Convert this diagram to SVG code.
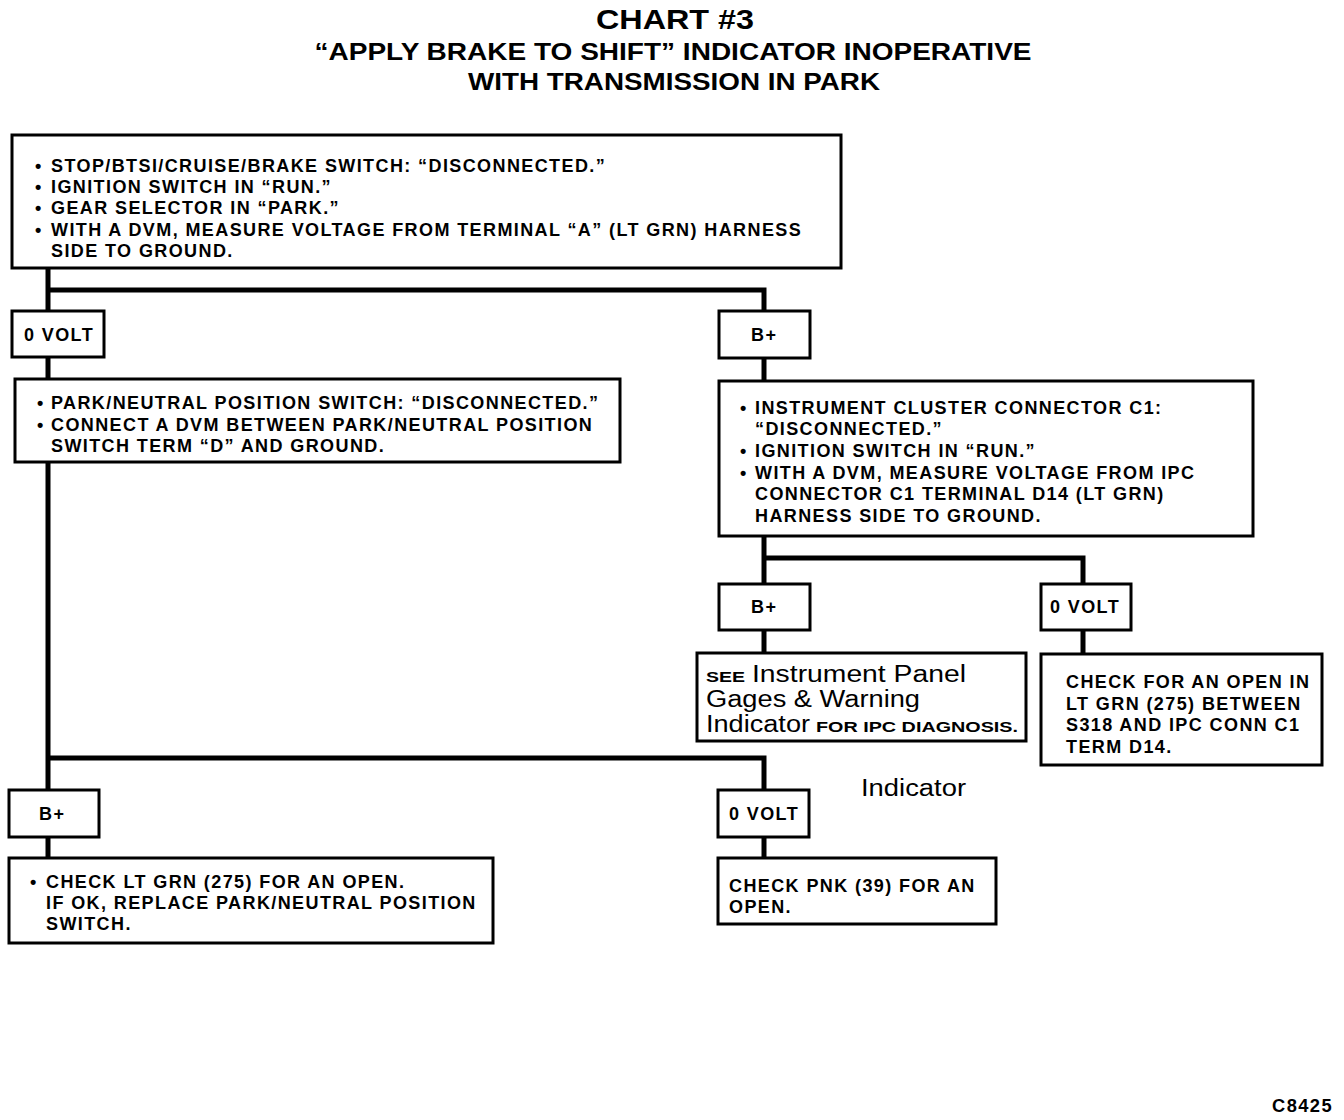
<svg xmlns="http://www.w3.org/2000/svg" width="1344" height="1120" viewBox="0 0 1344 1120">
<style>
.bx{fill:#fff;stroke:#000;stroke-width:3}
.t{font-family:"Liberation Sans",Arial,sans-serif;font-weight:bold;font-size:18px;letter-spacing:1.4px;fill:#000}
.ttl{font-family:"Liberation Sans",Arial,sans-serif;font-weight:bold;fill:#000;text-anchor:middle}
.r{font-family:"Liberation Sans",Arial,sans-serif;font-weight:normal;font-size:23px;fill:#000}
.s{font-family:"Liberation Sans",Arial,sans-serif;font-weight:bold;font-size:15px;fill:#000}
.c{fill:none;stroke:#000;stroke-width:5}
</style>
<rect width="1344" height="1120" fill="#fff"/>
<g id="title">
<text class="ttl" x="675" y="29" font-size="28" textLength="158" lengthAdjust="spacingAndGlyphs">CHART #3</text>
<text class="ttl" x="673" y="60" font-size="23" textLength="717" lengthAdjust="spacingAndGlyphs">“APPLY BRAKE TO SHIFT” INDICATOR INOPERATIVE</text>
<text class="ttl" x="674" y="90" font-size="23" textLength="412" lengthAdjust="spacingAndGlyphs">WITH TRANSMISSION IN PARK</text>
</g>
<g id="connectors">
<path class="c" d="M48 268 V311 M48 290 H764 V311"/>
<path class="c" d="M48 357 V379 M764 358 V381"/>
<path class="c" d="M48 462 V790 M48 758 H764 V790"/>
<path class="c" d="M764 536 V584 M764 558 H1083 V584"/>
<path class="c" d="M764 630 V653 M1083 630 V654"/>
<path class="c" d="M48 837 V858 M764 837 V858"/>
</g>
<g id="n1">
<rect class="bx" x="12" y="135" width="829" height="133"/>
<text class="t" y="172"><tspan x="35">•</tspan><tspan x="51">STOP/BTSI/CRUISE/BRAKE SWITCH: “DISCONNECTED.”</tspan></text>
<text class="t" y="193"><tspan x="35">•</tspan><tspan x="51">IGNITION SWITCH IN “RUN.”</tspan></text>
<text class="t" y="214"><tspan x="35">•</tspan><tspan x="51">GEAR SELECTOR IN “PARK.”</tspan></text>
<text class="t" y="236"><tspan x="35">•</tspan><tspan x="51">WITH A DVM, MEASURE VOLTAGE FROM TERMINAL “A” (LT GRN) HARNESS</tspan></text>
<text class="t" x="51" y="257">SIDE TO GROUND.</text>
</g>
<g id="n2">
<rect class="bx" x="12" y="311" width="92" height="46"/>
<text class="t" x="24" y="341">0 VOLT</text>
</g>
<g id="n3">
<rect class="bx" x="719" y="311" width="91" height="47"/>
<text class="t" x="751" y="341">B+</text>
</g>
<g id="n4">
<rect class="bx" x="15" y="379" width="605" height="83"/>
<text class="t" y="409"><tspan x="37">•</tspan><tspan x="51">PARK/NEUTRAL POSITION SWITCH: “DISCONNECTED.”</tspan></text>
<text class="t" y="431"><tspan x="37">•</tspan><tspan x="51">CONNECT A DVM BETWEEN PARK/NEUTRAL POSITION</tspan></text>
<text class="t" x="51" y="452">SWITCH TERM “D” AND GROUND.</text>
</g>
<g id="n5">
<rect class="bx" x="719" y="381" width="534" height="155"/>
<text class="t" y="414"><tspan x="740">•</tspan><tspan x="755">INSTRUMENT CLUSTER CONNECTOR C1:</tspan></text>
<text class="t" x="755" y="435">“DISCONNECTED.”</text>
<text class="t" y="457"><tspan x="740">•</tspan><tspan x="755">IGNITION SWITCH IN “RUN.”</tspan></text>
<text class="t" y="479"><tspan x="740">•</tspan><tspan x="755">WITH A DVM, MEASURE VOLTAGE FROM IPC</tspan></text>
<text class="t" x="755" y="500">CONNECTOR C1 TERMINAL D14 (LT GRN)</text>
<text class="t" x="755" y="522">HARNESS SIDE TO GROUND.</text>
</g>
<g id="n6">
<rect class="bx" x="719" y="584" width="91" height="46"/>
<text class="t" x="751" y="613">B+</text>
</g>
<g id="n7">
<rect class="bx" x="1041" y="584" width="90" height="46"/>
<text class="t" x="1050" y="613">0 VOLT</text>
</g>
<g id="n8">
<rect class="bx" x="697" y="653" width="329" height="88"/>
<text x="706" y="682"><tspan class="s" textLength="39" lengthAdjust="spacingAndGlyphs">SEE</tspan><tspan class="r" x="752" textLength="214" lengthAdjust="spacingAndGlyphs">Instrument  Panel</tspan></text>
<text class="r" x="706" y="707" textLength="214" lengthAdjust="spacingAndGlyphs">Gages &amp; Warning</text>
<text x="706" y="732"><tspan class="r" textLength="104" lengthAdjust="spacingAndGlyphs">Indicator</tspan><tspan class="s" x="816" textLength="202" lengthAdjust="spacingAndGlyphs">FOR IPC DIAGNOSIS.</tspan></text>
</g>
<g id="n9">
<rect class="bx" x="1041" y="654" width="281" height="111"/>
<text class="t" x="1066" y="688">CHECK FOR AN OPEN IN</text>
<text class="t" x="1066" y="710">LT GRN (275) BETWEEN</text>
<text class="t" x="1066" y="731">S318 AND IPC CONN C1</text>
<text class="t" x="1066" y="753">TERM D14.</text>
</g>
<text class="r" x="861" y="796" font-size="25" textLength="105" lengthAdjust="spacingAndGlyphs">Indicator</text>
<g id="n10">
<rect class="bx" x="9" y="790" width="90" height="47"/>
<text class="t" x="39" y="820">B+</text>
</g>
<g id="n11">
<rect class="bx" x="718" y="790" width="91" height="47"/>
<text class="t" x="729" y="820">0 VOLT</text>
</g>
<g id="n12">
<rect class="bx" x="9" y="858" width="484" height="85"/>
<text class="t" y="888"><tspan x="30">•</tspan><tspan x="46">CHECK LT GRN (275) FOR AN OPEN.</tspan></text>
<text class="t" x="46" y="909">IF OK, REPLACE PARK/NEUTRAL POSITION</text>
<text class="t" x="46" y="930">SWITCH.</text>
</g>
<g id="n13">
<rect class="bx" x="718" y="858" width="278" height="66"/>
<text class="t" x="729" y="892">CHECK PNK (39) FOR AN</text>
<text class="t" x="729" y="913">OPEN.</text>
</g>
<text class="t" x="1272" y="1112" font-size="16" textLength="61" lengthAdjust="spacingAndGlyphs">C8425</text>
</svg>
